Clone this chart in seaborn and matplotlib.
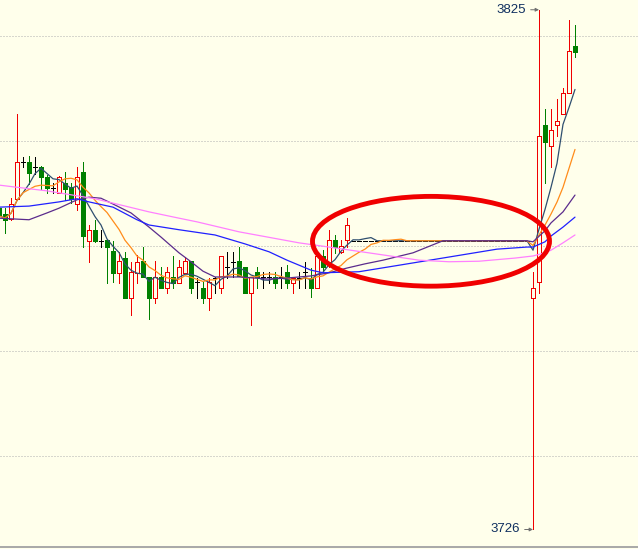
import numpy as np
import pandas as pd
import matplotlib
matplotlib.use("Agg")
import matplotlib.pyplot as plt
from matplotlib.patches import Ellipse
import seaborn as sns

# -------------------------
# Candles (one bar per minute slot)
# -------------------------
opens_before = [3787.2, 3786.1, 3785.1, 3789.0, 3796.0, 3796.0, 3795.0, 3795.0, 3793.1, 3791.0,
                3790.1, 3792.0, 3791.2, 3788.0, 3794.1, 3781.0, 3783.0, 3781.0, 3781.1, 3779.0,
                3774.9, 3777.7, 3770.1, 3774.9, 3777.1, 3774.1, 3770.1, 3774.1, 3772.0, 3774.1,
                3773.0, 3774.9, 3777.1, 3773.1, 3772.0, 3770.1, 3773.9, 3772.0, 3776.0, 3777.0,
                3777.1, 3776.0, 3771.0, 3775.0, 3774.1, 3774.1, 3774.1, 3774.1, 3775.0, 3773.0,
                3773.9, 3775.0, 3773.9, 3772.0, 3778.1, 3777.0, 3781.1, 3778.9, 3781.1]
highs_before = [3787.8, 3787.2, 3789.1, 3805.1, 3797.0, 3797.1, 3797.0, 3795.2, 3793.5, 3792.0,
                3793.3, 3794.1, 3792.0, 3795.0, 3796.0, 3784.0, 3785.0, 3783.0, 3781.2, 3780.9,
                3778.9, 3778.9, 3777.0, 3778.3, 3779.8, 3774.1, 3777.1, 3776.0, 3776.0, 3778.1,
                3777.3, 3777.9, 3777.1, 3773.9, 3773.1, 3773.9, 3774.1, 3778.1, 3778.9, 3778.9,
                3779.8, 3776.0, 3774.1, 3776.0, 3775.0, 3775.0, 3775.0, 3776.0, 3776.4, 3773.9,
                3775.0, 3777.0, 3775.8, 3778.1, 3779.2, 3783.0, 3782.1, 3781.1, 3785.3]
lows_before = [3784.6, 3782.5, 3784.9, 3788.8, 3795.0, 3791.8, 3793.7, 3790.9, 3790.1, 3790.1,
               3790.0, 3788.8, 3788.2, 3786.9, 3779.8, 3777.0, 3780.8, 3779.8, 3773.0, 3773.1,
               3773.0, 3770.1, 3766.9, 3773.0, 3774.1, 3766.1, 3769.1, 3772.0, 3771.0, 3772.0,
               3773.0, 3774.9, 3771.0, 3770.1, 3769.1, 3767.8, 3771.0, 3771.0, 3773.9, 3774.1,
               3774.3, 3771.0, 3765.0, 3772.0, 3772.0, 3773.0, 3772.0, 3772.0, 3772.0, 3771.0,
               3772.0, 3772.0, 3770.3, 3772.0, 3775.0, 3776.0, 3778.7, 3778.7, 3779.8]
closes_before = [3785.7, 3785.0, 3788.0, 3796.0, 3796.0, 3793.9, 3795.0, 3793.1, 3791.0, 3791.0,
                 3793.1, 3790.9, 3789.0, 3793.1, 3781.9, 3783.0, 3781.0, 3781.0, 3779.8, 3774.9,
                 3777.1, 3770.1, 3775.0, 3777.0, 3774.1, 3770.1, 3774.1, 3772.0, 3775.0, 3773.0,
                 3776.0, 3777.1, 3772.0, 3773.1, 3770.1, 3773.1, 3773.9, 3778.1, 3776.0, 3777.0,
                 3774.3, 3771.0, 3774.1, 3774.1, 3774.1, 3774.1, 3773.0, 3774.1, 3773.0, 3773.9,
                 3773.9, 3775.0, 3772.0, 3778.1, 3776.0, 3781.1, 3779.8, 3780.0, 3784.0]

# no trades for a while: price stays put
flat_price = 3781.0
n_flat = 30

opens_after = [3770.1, 3773.1, 3803.0, 3799.0, 3803.0, 3805.1, 3809.1, 3818.1]
highs_after = [3775.0, 3825.0, 3806.1, 3806.1, 3808.0, 3810.1, 3823.0, 3822.1]
lows_after = [3726.0, 3771.0, 3792.0, 3795.0, 3801.0, 3805.1, 3809.1, 3816.0]
closes_after = [3772.0, 3801.0, 3799.8, 3802.1, 3803.8, 3809.1, 3817.1, 3817.0]

opens = opens_before + [flat_price] * n_flat + opens_after
highs = highs_before + [flat_price] * n_flat + highs_after
lows = lows_before + [flat_price] * n_flat + lows_after
closes = closes_before + [flat_price] * n_flat + closes_after

# longer averages, read at a few bars each
ma20_idx = [0, 5, 8, 10, 13, 15, 17, 19, 22, 25, 27, 30, 32, 34, 36, 40, 45, 48, 52, 55,
            58, 61, 64, 69, 74, 88, 89, 91, 92, 94, 96]
ma20_val = [3785.3, 3785.0, 3786.3, 3787.2, 3788.8, 3789.3, 3789.1, 3788.0, 3786.3, 3783.6,
            3781.7, 3778.7, 3777.0, 3775.2, 3774.1, 3774.1, 3773.7, 3773.9, 3774.3, 3774.9,
            3775.8, 3776.6, 3777.3, 3778.7, 3781.0, 3781.0, 3780.8, 3782.9, 3784.4, 3786.5, 3789.7]
ma30_idx = [0, 5, 10, 13, 15, 19, 23, 25, 30, 36, 41, 45, 48, 52, 54, 60, 67, 75, 83, 88,
            89, 91, 92, 94, 96]
ma30_val = [3787.4, 3787.6, 3788.4, 3789.0, 3788.4, 3787.4, 3785.0, 3784.0, 3783.1, 3782.1,
            3780.4, 3778.9, 3777.3, 3775.4, 3774.9, 3775.1, 3776.4, 3777.9, 3779.4, 3779.8,
            3779.8, 3780.8, 3781.9, 3783.6, 3785.5]
ma60_idx = [0, 8, 16, 25, 30, 33, 40, 50, 55, 64, 70, 75, 80, 86, 89, 91, 92, 94, 96]
ma60_val = [3791.6, 3790.5, 3789.0, 3786.5, 3785.3, 3784.6, 3782.7, 3780.6, 3779.8, 3778.3,
            3777.3, 3777.0, 3777.1, 3777.7, 3778.1, 3778.7, 3779.2, 3780.6, 3782.1]

grid_levels = [3740, 3760, 3780, 3800, 3820]

# -------------------------
# Styling
# -------------------------
bg = "#ffffeb"
red = "#f00000"
green = "#008000"
px = 0.72  # one pixel in points at dpi 100

sns.set_style("white", rc={"axes.facecolor": bg, "figure.facecolor": bg})
plt.rcParams["font.family"] = ["Liberation Sans", "DejaVu Sans"]

fig = plt.figure(figsize=(6.38, 5.49), dpi=100)
ax = fig.add_axes([0, 2 / 549, 1, 547 / 549])

df = pd.DataFrame({"open": opens, "high": highs, "low": lows, "close": closes})
df["x"] = np.arange(len(df))
up = df[df.close > df.open]
down = df[df.close < df.open]
doji = df[df.close == df.open]

# -------------------------
# Candles
# -------------------------
body_w = 0.7
ax.vlines(up.x, up.close, up.high, color=red, lw=px, antialiased=False, zorder=2)
ax.vlines(up.x, up.low, up.open, color=red, lw=px, antialiased=False, zorder=2)
ax.bar(up.x, up.close - up.open, bottom=up.open, width=body_w, facecolor=bg,
       edgecolor=red, linewidth=px, antialiased=False, zorder=2)

ax.vlines(down.x, down.low, down.high, color=green, lw=px, antialiased=False, zorder=2)
ax.bar(down.x, down.close - down.open, bottom=down.open, width=body_w, color=green,
       edgecolor=green, linewidth=px, antialiased=False, zorder=2)

ax.vlines(doji.x, doji.low, doji.high, color="black", lw=px, antialiased=False, zorder=2)
ax.hlines(doji.close, doji.x - 0.4, doji.x + 0.4, color="black", lw=px,
          antialiased=False, zorder=2)

# -------------------------
# Moving averages
# -------------------------
ma5 = df.close.rolling(5, min_periods=1).mean()
ma10 = df.close.rolling(10, min_periods=1).mean()

line_w = 0.9
sns.lineplot(x=df.x, y=ma5, ax=ax, color="#2f4f6f", lw=line_w, zorder=3)
sns.lineplot(x=df.x, y=ma10, ax=ax, color="#ff8c1a", lw=line_w, zorder=3)
sns.lineplot(x=ma20_idx, y=ma20_val, ax=ax, color="#5b2c8c", lw=line_w, zorder=3)
sns.lineplot(x=ma30_idx, y=ma30_val, ax=ax, color="#2020ff", lw=line_w, zorder=3)
sns.lineplot(x=ma60_idx, y=ma60_val, ax=ax, color="#ff80ff", lw=line_w, zorder=3)

# high / low markers
i_hi = int(np.argmax(highs))
i_lo = int(np.argmin(lows))
for i, val in [(i_hi, highs[i_hi]), (i_lo, lows[i_lo])]:
    ax.annotate(f"{val:.0f}", xy=(i, val), xytext=(-13, 0), textcoords="offset pixels",
                ha="right", va="center", fontsize=9.5, color="#0f2f5f",
                arrowprops=dict(arrowstyle="-|>", color="#707070", lw=px,
                                shrinkA=1, shrinkB=0, mutation_scale=5))

# the hand-drawn circle around the flat stretch
ax.add_patch(Ellipse((72.0, 3780.9), width=39.5, height=17.1, fill=False,
                     edgecolor=red, lw=3.5, zorder=4))

# -------------------------
# Axes
# -------------------------
ax.set_xlim(1 / 6, 639 / 6)
ax.set_ylim(3826.857 - 547 / 5.25, 3826.857)
ax.set_yticks(grid_levels)
ax.set_xticks([])
ax.tick_params(left=False, labelleft=False, bottom=False, labelbottom=False)
ax.grid(axis="y", color="#b0b0b0", linestyle=(0, (1, 2)), lw=px)
ax.set_axisbelow(True)
ax.set_xlabel("")
ax.set_ylabel("")
for side in ["top", "left", "right"]:
    ax.spines[side].set_visible(False)
ax.spines["bottom"].set_color("#a8a8a8")
ax.spines["bottom"].set_linewidth(1.4)

fig.savefig("out.png", dpi=100, facecolor=bg)
